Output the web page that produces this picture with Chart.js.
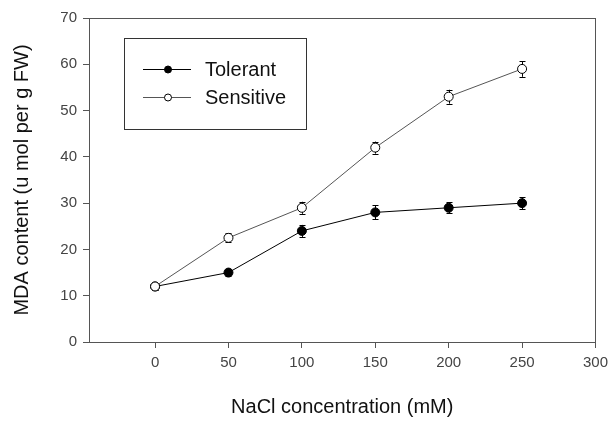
<!DOCTYPE html>
<html>
<head>
<meta charset="utf-8">
<script src="https://cdn.jsdelivr.net/npm/chart.js@4/dist/chart.umd.min.js"></script>
<style>
  html, body { margin: 0; padding: 0; background: #fff; }
  #wrap { width: 614px; height: 421px; }
</style>
</head>
<body>
<div id="wrap"><canvas id="chart" width="614" height="421"></canvas></div>
<script>
// NaCl concentration (mM)
const concentrations = [0, 50, 100, 150, 200, 250];
const tolerant = [12, 15, 24, 28, 29, 30];
const tolerantErr = [0.7, 0.8, 1.3, 1.5, 1.2, 1.3];
const sensitive = [12, 22.5, 29, 42, 53, 59];
const sensitiveErr = [0.7, 1.0, 1.3, 1.3, 1.5, 1.7];
const xTicks = [0, 50, 100, 150, 200, 250, 300];

const FONT = "Arial, 'Liberation Sans', sans-serif";
const axisColor = "#555";

// error bars, drawn under the markers
const errorBars = {
  id: "errorBars",
  beforeDatasetsDraw(chart) {
    const ctx = chart.ctx;
    const xs = chart.scales.x;
    const ys = chart.scales.y;
    ctx.save();
    ctx.strokeStyle = "#000";
    ctx.lineWidth = 1;
    chart.data.datasets.forEach((ds) => {
      ds.data.forEach((p, i) => {
        const e = ds.errors[i];
        const x = Math.round(xs.getPixelForValue(p.x)) + 0.5;
        const y1 = ys.getPixelForValue(p.y - e);
        const y2 = ys.getPixelForValue(p.y + e);
        ctx.beginPath();
        ctx.moveTo(x, y1);
        ctx.lineTo(x, y2);
        ctx.moveTo(x - 3, Math.round(y1) + 0.5);
        ctx.lineTo(x + 3, Math.round(y1) + 0.5);
        ctx.moveTo(x - 3, Math.round(y2) + 0.5);
        ctx.lineTo(x + 3, Math.round(y2) + 0.5);
        ctx.stroke();
      });
    });
    ctx.restore();
  },
};

// frame round the plot and the boxed legend
const frameAndLegend = {
  id: "frameAndLegend",
  afterDraw(chart) {
    const ctx = chart.ctx;
    const a = chart.chartArea;
    ctx.save();
    ctx.strokeStyle = axisColor;
    ctx.lineWidth = 1;
    ctx.strokeRect(Math.round(a.left) + 0.5, Math.round(a.top) + 0.5,
      Math.round(a.right - a.left), Math.round(a.bottom - a.top));

    const bx = Math.round(a.left) + 35;
    const by = Math.round(a.top) + 20;
    ctx.strokeStyle = "#333";
    ctx.strokeRect(bx + 0.5, by + 0.5, 182, 91);

    const rows = [
      { label: "Tolerant", line: "#000", fill: "#000" },
      { label: "Sensitive", line: "#555", fill: "#fff" },
    ];
    ctx.font = "20px " + FONT;
    ctx.textBaseline = "middle";
    rows.forEach((r, i) => {
      const y = by + 31 + i * 28 + 0.5;
      ctx.strokeStyle = r.line;
      ctx.beginPath();
      ctx.moveTo(bx + 19, y);
      ctx.lineTo(bx + 67, y);
      ctx.stroke();
      ctx.beginPath();
      ctx.arc(bx + 44, y, 3.5, 0, Math.PI * 2);
      ctx.fillStyle = r.fill;
      ctx.fill();
      ctx.strokeStyle = "#000";
      ctx.stroke();
      ctx.fillStyle = "#111";
      ctx.fillText(r.label, bx + 81, y + 1);
    });
    ctx.restore();
  },
};

const ctx = document.getElementById("chart").getContext("2d");
new Chart(ctx, {
  type: "line",
  data: {
    datasets: [
      {
        label: "Tolerant",
        data: concentrations.map((x, i) => ({ x, y: tolerant[i] })),
        errors: tolerantErr,
        borderColor: "#000",
        borderWidth: 1,
        pointBackgroundColor: "#000",
        pointBorderColor: "#000",
        pointBorderWidth: 1,
        pointRadius: 4.5,
        tension: 0,
        order: 1,
      },
      {
        label: "Sensitive",
        data: concentrations.map((x, i) => ({ x, y: sensitive[i] })),
        errors: sensitiveErr,
        borderColor: "#555",
        borderWidth: 1,
        pointBackgroundColor: "#fff",
        pointBorderColor: "#000",
        pointBorderWidth: 1,
        pointRadius: 4.5,
        tension: 0,
        order: 0,
      },
    ],
  },
  options: {
    responsive: false,
    animation: false,
    layout: { padding: { top: 18, right: 15, left: 0, bottom: 0 } },
    plugins: {
      legend: { display: false },
      tooltip: { enabled: false },
    },
    scales: {
      x: {
        type: "linear",
        min: -45,
        max: 300,
        afterBuildTicks: (s) => { s.ticks = xTicks.map((v) => ({ value: v })); },
        afterFit: (s) => { s.height = 79; },
        grid: { drawOnChartArea: false, drawTicks: true, tickLength: 6, color: axisColor },
        border: { display: true, color: axisColor },
        ticks: { color: "#444", font: { family: FONT, size: 15 }, padding: 6, maxRotation: 0 },
        title: {
          display: true,
          text: "NaCl concentration (mM)",
          color: "#111",
          font: { family: FONT, size: 20 },
          padding: { top: 4, bottom: 2 },
        },
      },
      y: {
        min: 0,
        max: 70,
        ticks: { stepSize: 10, color: "#444", font: { family: FONT, size: 15 }, padding: 6 },
        afterFit: (s) => { s.width = 89; },
        grid: { drawOnChartArea: false, drawTicks: true, tickLength: 6, color: axisColor },
        border: { display: true, color: axisColor },
        title: {
          display: true,
          text: "MDA content (u mol per g FW)",
          color: "#111",
          font: { family: FONT, size: 20 },
          padding: { top: 10, bottom: 4 },
        },
      },
    },
  },
  plugins: [errorBars, frameAndLegend],
});
</script>
</body>
</html>
